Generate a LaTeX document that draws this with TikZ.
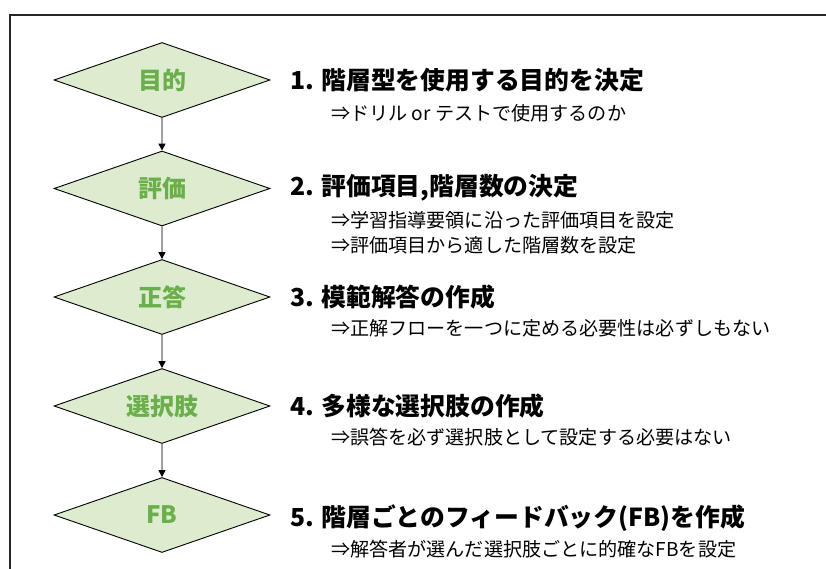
\documentclass[tikz,border=0pt]{standalone}
\usepackage{fontspec}
\setmainfont{Noto Sans CJK JP}
\usetikzlibrary{shapes.geometric,arrows.meta}
\definecolor{dfill}{HTML}{DDEBCF}
\definecolor{dtext}{HTML}{6AAF4A}
\definecolor{lgray}{HTML}{A0A0A0}
\tikzset{
  dia/.style={diamond, draw=black, line width=0.9pt, fill=dfill, minimum width=216pt, minimum height=75pt, inner sep=0pt,
    font=\fontsize{24}{26}\selectfont\bfseries, text=dtext, aspect=2.88},
  head/.style={anchor=west, inner sep=0pt, font=\fontsize{24.8}{28}\selectfont\bfseries},
  sub/.style={anchor=west, inner sep=0pt, font=\fontsize{19.1}{22}\selectfont},
  conn/.style={draw=lgray, line width=1.4pt, -{Stealth[black,length=7pt,width=7pt,inset=0pt]}},
  frame/.style={line width=1.3pt, draw=black!85}
}
\begin{document}
\begin{tikzpicture}[x=1pt,y=-1pt]
\useasboundingbox (0,0) rectangle (826,569);
\coordinate (fa) at (10,569);
\coordinate (fb) at (10,15);
\coordinate (fc) at (826,15);
\draw[frame] (fa) -- (fb) -- (fc);

\node[dia] (d1) at (162,80) {目的};
\node[dia] (d2) at (162,188.5) {評価};
\node[dia] (d3) at (162,297) {正答};
\node[dia] (d4) at (162,406) {選択肢};
\node[dia] (d5) at (162,515) {FB};

\draw[conn] (d1.south) -- (d2.north);
\draw[conn] (d2.south) -- (d3.north);
\draw[conn] (d3.south) -- (d4.north);
\draw[conn] (d4.south) -- (d5.north);

\node[head] (h1) at (290,80) {1. 階層型を使用する目的を決定};
\node[sub] (s1) at (331,113) {⇒ドリル or テストで使用するのか};
\node[head] (h2) at (290,188) {2. 評価項目,階層数の決定};
\node[sub] (s2a) at (331,220) {⇒学習指導要領に沿った評価項目を設定};
\node[sub] (s2b) at (331,245) {⇒評価項目から適した階層数を設定};
\node[head] (h3) at (290,297) {3. 模範解答の作成};
\node[sub] (s3) at (331,328) {⇒正解フローを一つに定める必要性は必ずしもない};
\node[head] (h4) at (290,406) {4. 多様な選択肢の作成};
\node[sub] (s4) at (331,437) {⇒誤答を必ず選択肢として設定する必要はない};
\node[head] (h5) at (290,518) {5. 階層ごとのフィードバック(FB)を作成};
\node[sub] (s5) at (331,549) {⇒解答者が選んだ選択肢ごとに的確なFBを設定};
\end{tikzpicture}
\end{document}
